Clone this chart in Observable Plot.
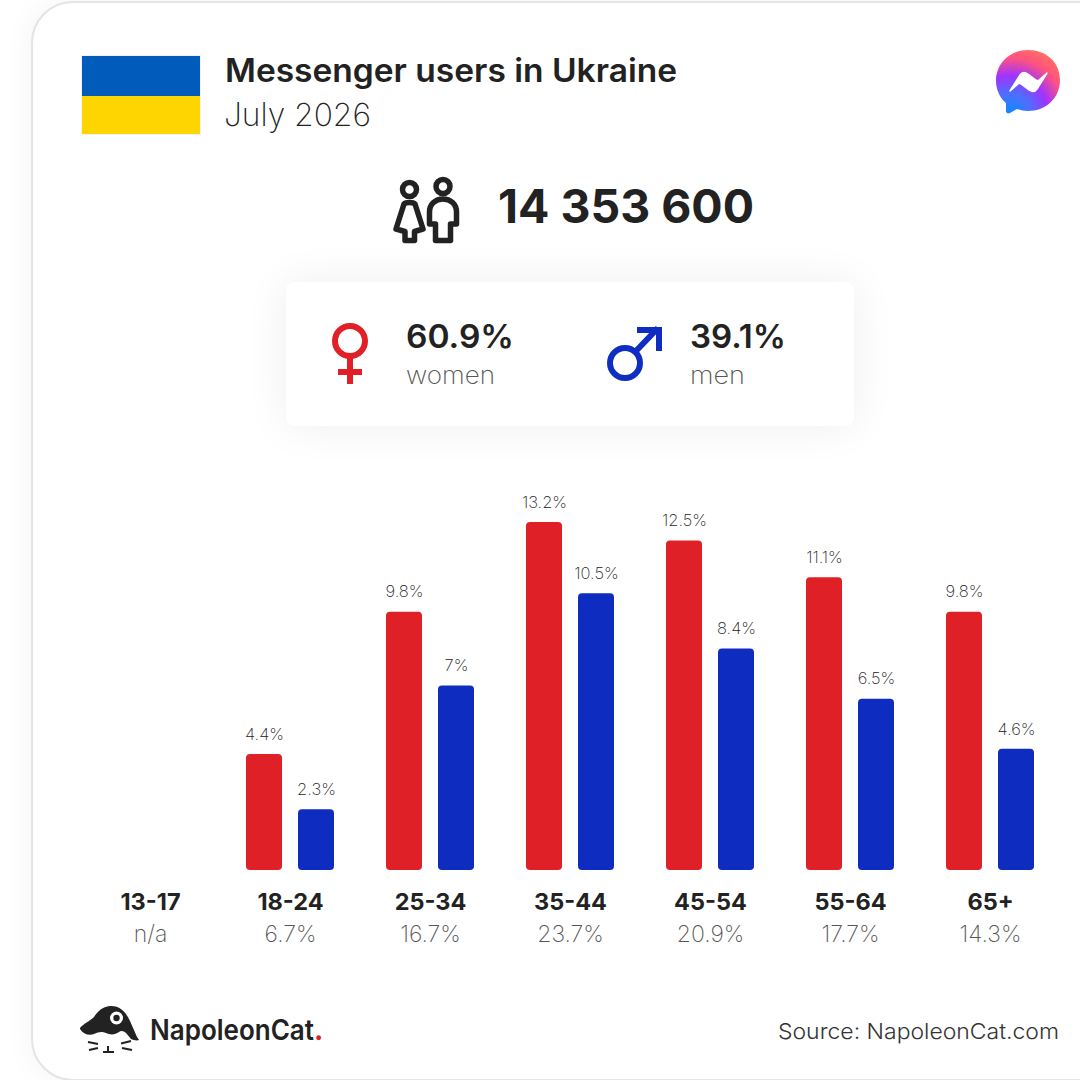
<!DOCTYPE html>
<html><head><meta charset="utf-8">
<script src="https://cdn.jsdelivr.net/npm/d3@7"></script>
<script src="https://cdn.jsdelivr.net/npm/@observablehq/plot@0.6"></script>
<style>
html,body{margin:0;padding:0;background:#fff;width:1080px;height:1080px;overflow:hidden;font-family:Inter,"Open Sans",sans-serif;color:#222}
#card{position:absolute;left:31px;top:1px;width:1100px;height:1076px;border:2px solid #e4e4e4;border-radius:42px;background:#fff;box-shadow:0 0 30px rgba(0,0,0,.05);box-sizing:content-box}
#box{position:absolute;left:286px;top:282px;width:568px;height:144px;border-radius:8px;background:#fff;box-shadow:0 0 44px rgba(0,0,0,.07)}
#chart{position:absolute;left:0;top:0}
#art{position:absolute;left:0;top:0}
.t{position:absolute;white-space:nowrap;line-height:1;transform-origin:0 50%}
</style></head><body>
<div id="card"></div><div id="box"></div>
<svg id="art" width="1080" height="1080" viewBox="0 0 1080 1080">
  <defs>
    <radialGradient id="mg" gradientUnits="userSpaceOnUse" cx="1010" cy="114" r="70">
      <stop offset="0" stop-color="#0a8cff"/><stop offset=".3" stop-color="#4f6dff"/><stop offset=".55" stop-color="#a033ff"/><stop offset=".8" stop-color="#ff5280"/><stop offset="1" stop-color="#ff7061"/>
    </radialGradient>
  </defs>
  <rect x="81" y="55" width="120" height="80" fill="#f2f2f2"/>
  <rect x="82" y="56" width="118" height="40" fill="#005bbb"/>
  <rect x="82" y="96" width="118" height="38" fill="#ffd500"/>
  <!-- messenger -->
  <path d="M1028 50c-18 0-32 13-32 31 0 9 4 17 10 22v8c0 2 2 3 4 2l7-4c4 1 7 2 11 2 18 0 32-13 32-31s-14-30-32-30z" fill="url(#mg)"/>
  <path d="M1010 91l10-16c2-3 5-3 8-1l8 6c1 1 2 1 3 0l8-7-10 16c-2 3-5 3-8 1l-8-6c-1-1-2-1-3 0z" fill="#fff" stroke="#fff" stroke-width="1.500" stroke-linejoin="round"/>
  <!-- people -->
  <g fill="none" stroke="#222" stroke-width="5.500" stroke-linejoin="round" stroke-linecap="round">
    <circle cx="409.500" cy="189.500" r="7"/>
    <path d="M404 204c2-2 9-2 11 0l8 25-8.500 2.500v9h-9.500v-9l-9-2.500z"/>
    <circle cx="443" cy="186.500" r="7"/>
    <path d="M429.500 224v-12c0-8 6-13 13.500-13s13.500 5 13.500 13v12h-6v16.500h-15v-16.500z"/>
  </g>
  <!-- female -->
  <g fill="none" stroke="#e01f26" stroke-width="6">
    <circle cx="350" cy="341" r="15"/>
    <path d="M350 357v27M338 372h24"/>
  </g>
  <!-- male -->
  <g fill="none" stroke="#0f2cc3" stroke-width="6">
    <circle cx="625" cy="363" r="15"/>
    <path d="M636 351l22-23"/>
    <path d="M637 330h22v21"/>
  </g>
  <!-- cat -->
  <path d="M80 1028c3-4 10-7 14-11 4-6 9-11 17-11 9 0 15 6 19 15l7 16 2 3c-2 1-6 0-8-1l-5-6c-2-2-5-3-7-1-4 3-9 3-13 1-4-2-8-1-12 1-5 2-11 0-14-5z" fill="#222"/>
  <circle cx="116.500" cy="1018" r="6.500" fill="#fff"/><circle cx="116.500" cy="1018" r="3.200" fill="#222"/>
  <path d="M88 1042l10 2M89 1050l9-2M131 1041l-10 2.500M132 1050l-10-2M108 1046v6M103 1052h11" stroke="#222" stroke-width="2" fill="none"/>
</svg>
<script>
const ages = ["13-17","18-24","25-34","35-44","45-54","55-64","65+"];
const womenValues = [null,4.4,9.8,13.2,12.5,11.1,9.8];
const menValues = [null,2.3,7,10.5,8.4,6.5,4.6];
const ageShares = ["n/a","6.7%","16.7%","23.7%","20.9%","17.7%","14.3%"];
const genders = ["women","men"];
const genderColors = ["#df2027","#0f2cc0"];

const rows = ages.flatMap((age,i)=>[
  {age,gender:"women",value:womenValues[i]},
  {age,gender:"men",value:menValues[i]}
]).filter(d=>d.value!=null);
const shares = ages.map((age,i)=>({age,share:ageShares[i]}));

const F = "Inter, sans-serif";
const chart = Plot.plot({
  width:1080,height:1080,
  marginLeft:80,marginRight:20,marginTop:522,marginBottom:210,
  style:{background:"transparent",fontFamily:F},
  fx:{domain:ages,padding:0,round:false,label:null,axis:null},
  x:{domain:genders,paddingInner:16/52,paddingOuter:0.5,round:false,axis:null},
  y:{domain:[0,13.2],axis:null},
  color:{domain:genders,range:genderColors},
  marks:[
    Plot.barY(rows,{fx:"age",x:"gender",y:"value",fill:"gender",rx:4}),
    Plot.text(rows,{fx:"age",x:"gender",y:"value",text:d=>d.value+"%",dy:-20,fontSize:16.500,fontWeight:200,fill:"#222"}),
    Plot.axisFx({anchor:"bottom",tickSize:0,tickPadding:32,lineAnchor:"middle",fontSize:23.500,fontWeight:700,fill:"#222",label:null}),
    Plot.text(shares,{fx:"age",y:d=>0,text:"share",dy:64,fontSize:23,fontWeight:200,fill:"#555"})
  ]
});
chart.id="chart";
document.body.appendChild(chart);

// text x, centre y, target width, size, weight, colour
const labels = [
  ["Messenger users in Ukraine",225,71,452,32,600,"#222"],
  ["July 2026",224,115,147,32,200,"#222"],
  ["14 353 600",498,206,256,46,700,"#222"],
  ["60.9%",406,337,108,32,600,"#222"],
  ["women",406,376,89,24,200,"#555"],
  ["39.1%",690,337,96,32,600,"#222"],
  ["men",690,376,55,24,200,"#555"],
  ["NapoleonCat",150,1030,164,28,600,"#222"],
  [".",314,1030,6,28,700,"#e01f26"],
  ["Source: NapoleonCat.com",778,1031,281,22,300,"#333"]
];
for(const [s,x,y,w,size,wt,c] of labels){
  const e=document.createElement("div");e.className="t";e.textContent=s;
  e.style.cssText=`left:${x}px;top:${y}px;font-size:${size}px;font-weight:${wt};color:${c};transform:translateY(-50%)`;
  document.body.appendChild(e);
  const cur=e.getBoundingClientRect().width;
  if(s.length>1) e.style.transform=`translateY(-50%) scaleX(${w/cur})`;
}
</script>
</body></html>
